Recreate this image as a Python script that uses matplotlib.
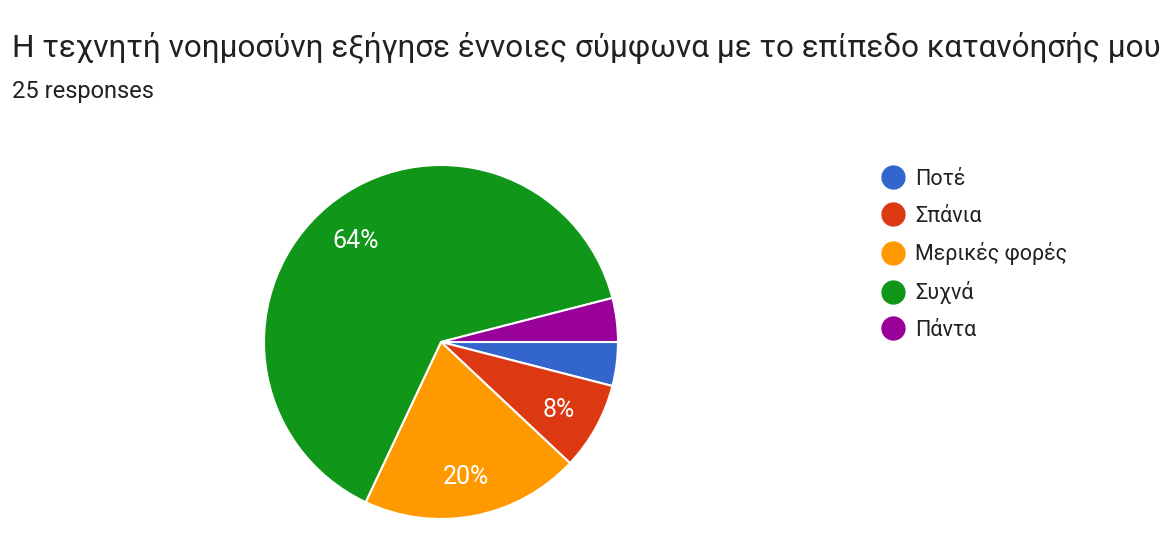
import matplotlib

matplotlib.use("Agg")
import matplotlib.pyplot as plt
from matplotlib.lines import Line2D

title = "Η τεχνητή νοημοσύνη εξήγησε έννοιες σύμφωνα με το επίπεδο κατανόησής μου"
subtitle = "25 responses"
categories = ["Ποτέ", "Σπάνια", "Μερικές φορές", "Συχνά", "Πάντα"]
counts = [1, 2, 5, 16, 1]
colors = ["#3366cc", "#dc3912", "#ff9900", "#109618", "#990099"]

plt.rcParams["font.family"] = ["Roboto", "DejaVu Sans"]

W, H = 1172, 557
fig = plt.figure(figsize=(W / 100, H / 100), dpi=100)

fig.text(12 / W, 1 - 57 / H, title, fontsize=22.7, color="#202124", va="baseline", ha="left")
fig.text(12 / W, 1 - 98 / H, subtitle, fontsize=17, color="#202124", va="baseline", ha="left")

cx, cy, r = 441, 342, 177
ax = fig.add_axes([(cx - r) / W, (H - cy - r) / H, 2 * r / W, 2 * r / H])


def fmt(p):
    return f"{p:.0f}%" if p >= 5 else ""


wedges, _, autotexts = ax.pie(
    counts,
    colors=colors,
    startangle=0,
    counterclock=False,
    autopct=fmt,
    pctdistance=0.76,
    wedgeprops={"edgecolor": "white", "linewidth": 1.5},
    textprops={"color": "white", "fontsize": 18},
)
# small downward nudge of the percentage labels
for t in autotexts:
    x, y = t.get_position()
    t.set_position((x, y - 3 / r))
ax.set_xlim(-1, 1)
ax.set_ylim(-1, 1)
ax.set_aspect("equal")

handles = [
    Line2D([], [], marker="o", linestyle="", markersize=16.5, markerfacecolor=c, markeredgecolor=c)
    for c in colors
]
fig.legend(
    handles,
    categories,
    loc="upper left",
    bbox_to_anchor=(882 / W, 1 - 169 / H),
    frameon=False,
    fontsize=15.5,
    handlelength=1.0,
    handletextpad=0.53,
    labelspacing=0.73,
    borderpad=0,
    borderaxespad=0,
    labelcolor="#202124",
)

fig.savefig("out.png", dpi=100)
plt.close(fig)
